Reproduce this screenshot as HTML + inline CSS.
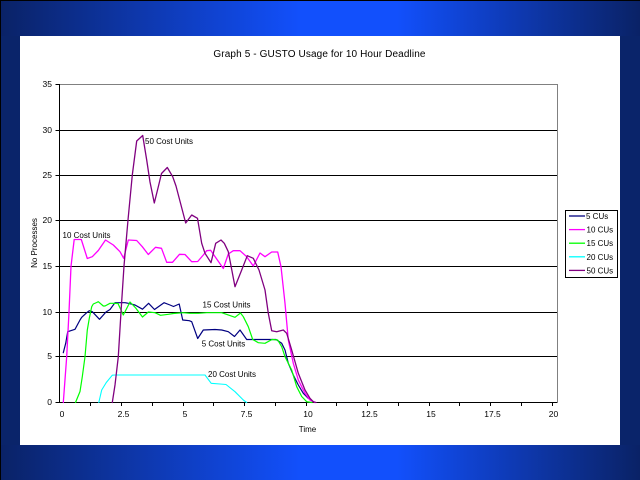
<!DOCTYPE html>
<html>
<head>
<meta charset="utf-8">
<style>
html,body{margin:0;padding:0;background:#0a246a;}
svg{display:block;}
text{font-family:"Liberation Sans",Arial,sans-serif;fill:#000;}
</style>
</head>
<body>
<svg width="640" height="480" viewBox="0 0 640 480" xmlns="http://www.w3.org/2000/svg">
<defs>
<linearGradient id="g" x1="0" y1="0" x2="1" y2="0">
<stop offset="0" stop-color="#0a2266"/>
<stop offset="0.47" stop-color="#1250fc"/>
<stop offset="0.62" stop-color="#1250fc"/>
<stop offset="1" stop-color="#0a2266"/>
</linearGradient>
</defs>
<rect x="0" y="0" width="640" height="480" fill="#0a246a"/>
<rect x="0" y="0" width="640" height="36" fill="url(#g)"/>
<rect x="0" y="445" width="640" height="35" fill="url(#g)"/>
<rect x="0" y="0" width="640" height="1" fill="#000"/>
<rect x="0" y="0" width="1" height="480" fill="#000"/>
<rect x="20" y="36" width="600" height="409" fill="#fff"/>

<text x="319.5" y="57" font-size="10" text-anchor="middle" letter-spacing="0.12">Graph 5 - GUSTO Usage for 10 Hour Deadline</text>

<!-- gridlines -->
<g stroke="#000" stroke-width="1" fill="none">
<line x1="55.5" y1="130.5" x2="557" y2="130.5"/>
<line x1="55.5" y1="175.5" x2="557" y2="175.5"/>
<line x1="55.5" y1="220.5" x2="557" y2="220.5"/>
<line x1="55.5" y1="266.5" x2="557" y2="266.5"/>
<line x1="55.5" y1="312.5" x2="557" y2="312.5"/>
<line x1="55.5" y1="356.5" x2="557" y2="356.5"/>
<line x1="55.5" y1="402.5" x2="557.5" y2="402.5"/>
<line x1="55.5" y1="84.5" x2="59.5" y2="84.5"/>
<line x1="59.5" y1="84" x2="59.5" y2="403"/>
</g>
<g stroke="#808080" stroke-width="1" fill="none">
<line x1="60" y1="84.5" x2="557.5" y2="84.5"/>
<line x1="557.5" y1="84" x2="557.5" y2="402"/>
</g>
<!-- x ticks -->
<g stroke="#000" stroke-width="1">
<line x1="90.5" y1="402" x2="90.5" y2="406"/>
<line x1="121.5" y1="402" x2="121.5" y2="406"/>
<line x1="152.5" y1="402" x2="152.5" y2="406"/>
<line x1="183.5" y1="402" x2="183.5" y2="406"/>
<line x1="213.5" y1="402" x2="213.5" y2="406"/>
<line x1="244.5" y1="402" x2="244.5" y2="406"/>
<line x1="275.5" y1="402" x2="275.5" y2="406"/>
<line x1="306.5" y1="402" x2="306.5" y2="406"/>
<line x1="336.5" y1="402" x2="336.5" y2="406"/>
<line x1="367.5" y1="402" x2="367.5" y2="406"/>
<line x1="398.5" y1="402" x2="398.5" y2="406"/>
<line x1="429.5" y1="402" x2="429.5" y2="406"/>
<line x1="459.5" y1="402" x2="459.5" y2="406"/>
<line x1="490.5" y1="402" x2="490.5" y2="406"/>
<line x1="521.5" y1="402" x2="521.5" y2="406"/>
<line x1="552.5" y1="402" x2="552.5" y2="406"/>
</g>

<!-- y labels -->
<g font-size="8.5" text-anchor="end">
<text x="52" y="405">0</text>
<text x="52" y="359">5</text>
<text x="52" y="315">10</text>
<text x="52" y="269">15</text>
<text x="52" y="223">20</text>
<text x="52" y="178">25</text>
<text x="52" y="133">30</text>
<text x="52" y="87">35</text>
</g>
<!-- x labels -->
<g font-size="8.5" text-anchor="middle">
<text x="62" y="417">0</text>
<text x="123.5" y="417">2.5</text>
<text x="185" y="417">5</text>
<text x="246.5" y="417">7.5</text>
<text x="308" y="417">10</text>
<text x="369.5" y="417">12.5</text>
<text x="431" y="417">15</text>
<text x="492.5" y="417">17.5</text>
<text x="553.5" y="417">20</text>
</g>
<text x="307.5" y="432" font-size="8" text-anchor="middle">Time</text>
<text x="0" y="0" font-size="8" text-anchor="middle" transform="translate(37,243) rotate(-90)">No Processes</text>

<!-- series -->
<g fill="none" stroke-linejoin="round" stroke-linecap="round">
<polyline stroke="#000080" stroke-width="1.2" points="63.3,352.7 65.7,343.3 67.7,331.7 75,329.3 80,320 81.7,317.3 86.7,312.7 89.3,310.7 92.3,311.7 99.5,319.3 106,312 110,309.5 115,302.7 125,302.7 128.3,303.3 135,305 142.5,309.2 148.6,303.3 154.5,309.5 164,302.7 170,305 173.5,306.5 179.2,304 182.7,320 189.3,320.7 191.7,321.7 197.7,338.5 203.3,330 215,329.5 221.7,330 228.3,331.7 234.5,336.5 240,330 246.7,339.5 253.3,339.5 276,339.5 281.7,343.3 285,350 288.3,363.3 293.3,375 298.3,385 303.3,393.3 308.3,398.3 313.3,401.7 315,402.5"/>
<polyline stroke="#ff00ff" stroke-width="1.3" points="63.3,402.5 66.7,356.7 69,312 71,266.3 74.2,239.5 81.3,239.5 87.3,258.5 92.3,256.7 98.3,250.5 105.5,240 113.3,245 120,251.7 123.7,258.3 128.3,240 136.7,240.5 142.3,246.7 148.3,254.5 155.5,247.3 161.5,248.3 166.7,262.3 172.5,262.3 179.5,254.3 185,254.5 191.7,261.7 197.7,261.5 203.3,255 206.7,250.7 210.7,250.3 212.3,252.7 223.3,268.5 228.3,254 233.3,250.7 240,250.7 246.7,256.7 253.3,266 260,253 265,256.7 271.7,252 277.7,252 281,266.7 285,303.3 288.3,340 293.3,363.3 298.3,380 305,393.3 310,400 315,402.5"/>
<polyline stroke="#00ff00" stroke-width="1.2" points="75.5,402.5 80,391.5 82.3,376.7 85,356.7 87.3,330 89.3,318.3 91.7,306.7 93.3,304 96.7,302.5 98.3,301.7 103.3,306 105,306 110,303.3 113.3,303.3 118,303.5 123.3,315 130,302 135.7,308 142.5,317 148.3,312 155,312.7 160.5,315.3 168.3,314.3 173.3,313.5 183.3,312.7 190,313.3 198.3,313.3 206.7,312.7 221.7,312.7 235,317.3 240.5,313 243.3,316.7 248.3,326.7 252.7,339.5 258.3,342.7 265,343.3 272,339.5 277.7,340 281.7,346.7 285,356.7 291.7,370 296.7,386.7 301.7,396.5 306.7,401.7 312,402.5"/>
<polyline stroke="#00ffff" stroke-width="1.1" points="98.8,402.5 101.7,390 106.3,382.5 112.3,375.2 115,375 205,375 211.2,383.3 220,384 226,384.5 235,391.7 243.3,400 246.7,402.5"/>
<polyline stroke="#800080" stroke-width="1.3" points="112.3,402.5 115,385 118.3,356.7 121,312 124,266 128,220 132.3,175 136.7,141 142.7,135.5 146.7,160 150,182 154.3,203 158,188 161.5,173.5 167.3,167.5 172.7,176.7 176,186 185.7,223 191.7,215 197.5,218.3 201.7,243.3 205,253.3 211,262.7 215.7,243.3 221,240 224.3,243.3 228.3,251.7 235,286.7 241.7,270 247.3,255.7 253.3,258.3 259,270 265,290 268.3,313.3 271.7,330.7 276.7,331.7 283.3,330 286.7,333.3 291.7,350 298.3,373.3 305,390 310,398.3 313.3,401.7 316,402.5"/>
</g>

<!-- annotations -->
<g font-size="8">
<text x="145" y="144">50 Cost Units</text>
<text x="62.5" y="238">10 Cost Units</text>
<text x="202.5" y="307.5">15 Cost Units</text>
<text x="201.7" y="346.5">5 Cost Units</text>
<text x="208" y="377">20 Cost Units</text>
</g>

<!-- legend -->
<rect x="565.5" y="210.5" width="52" height="67" fill="#fff" stroke="#000" stroke-width="1"/>
<g stroke-width="1.3">
<line x1="569" y1="216" x2="585" y2="216" stroke="#000080"/>
<line x1="569" y1="229.6" x2="585" y2="229.6" stroke="#ff00ff"/>
<line x1="569" y1="243.2" x2="585" y2="243.2" stroke="#00ff00"/>
<line x1="569" y1="256.8" x2="585" y2="256.8" stroke="#00ffff"/>
<line x1="569" y1="270.4" x2="585" y2="270.4" stroke="#800080"/>
</g>
<g font-size="8">
<text x="586" y="219">5 CUs</text>
<text x="586.5" y="232.6">10 CUs</text>
<text x="586.5" y="246.2">15 CUs</text>
<text x="586.5" y="259.8">20 CUs</text>
<text x="586.5" y="273.4">50 CUs</text>
</g>
</svg>
</body>
</html>
